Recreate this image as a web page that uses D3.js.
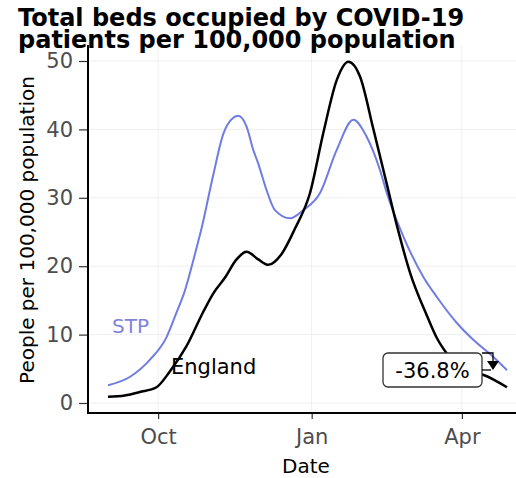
<!DOCTYPE html>
<html>
<head>
<meta charset="utf-8">
<script src="https://cdn.jsdelivr.net/npm/d3@7"></script>
<style>
  html, body { margin: 0; padding: 0; background: #fff; }
  svg { display: block; font-family: "DejaVu Sans", sans-serif; }
</style>
</head>
<body>
<svg id="chart" width="516" height="478"></svg>
<script>
// ---- Data ----
const englandDates = ["2020-09-01","2020-09-11","2020-09-20","2020-09-30","2020-10-08","2020-10-18","2020-10-28","2020-11-03","2020-11-10","2020-11-17","2020-11-23","2020-11-30","2020-12-06","2020-12-14","2020-12-22","2020-12-31","2021-01-08","2021-01-16","2021-01-23","2021-01-30","2021-02-07","2021-02-15","2021-02-21","2021-03-01","2021-03-11","2021-03-17","2021-03-23","2021-03-31","2021-04-14","2021-04-28"];
const englandValues = [0.9,1.1,1.6,2.3,4.6,8.3,13.3,16.0,18.3,21.0,22.1,21.0,20.2,21.8,25.5,30.7,39.5,47.2,49.9,47.7,40.0,32.0,26.0,19.0,12.8,9.5,7.2,4.8,4.1,2.3];

const stpDates = ["2020-09-01","2020-09-14","2020-09-26","2020-10-06","2020-10-12","2020-10-17","2020-10-23","2020-10-27","2020-11-03","2020-11-09","2020-11-15","2020-11-18","2020-11-23","2020-11-27","2020-11-30","2020-12-05","2020-12-10","2020-12-19","2020-12-27","2021-01-06","2021-01-16","2021-01-26","2021-02-03","2021-02-11","2021-02-15","2021-02-25","2021-03-09","2021-03-17","2021-03-29","2021-04-08","2021-04-20","2021-04-28"];
const stpValues = [2.6,3.8,6.3,9.6,13.2,16.4,21.7,25.5,33.3,39.3,41.7,42.0,40.4,37.0,35.0,31.1,28.2,27.0,28.2,30.7,37.0,41.4,38.9,34.0,30.7,24.3,18.4,15.5,11.7,9.2,6.7,4.8];

const yTicks = [0,10,20,30,40,50];
const xTickDates = ["2020-10-01","2021-01-01","2021-04-01"];
const titleLines = ["Total beds occupied by COVID-19","patients per 100,000 population"];
const changeLabel = "-36.8%";

// ---- Setup ----
const parse = d3.timeParse("%Y-%m-%d");
const svg = d3.select("#chart");
const W = 516, H = 478;
svg.append("rect").attr("width", W).attr("height", H).attr("fill", "#fff");

const x = d3.scaleTime()
  .domain([parse("2020-08-20"), parse("2021-05-07")])
  .range([88, 522]);
const y = d3.scaleLinear().domain([0, 50]).range([403, 61]);

const panelTop = 45, panelBottom = 413, panelLeft = 88, panelRight = 516;

// gridlines
const grid = svg.append("g");
grid.selectAll("line.h").data(yTicks).enter().append("line")
  .attr("x1", panelLeft).attr("x2", panelRight)
  .attr("y1", d => y(d)).attr("y2", d => y(d))
  .attr("stroke", "#efefef").attr("stroke-width", 1);
grid.selectAll("line.v").data(xTickDates.map(parse)).enter().append("line")
  .attr("x1", d => x(d)).attr("x2", d => x(d))
  .attr("y1", panelTop).attr("y2", panelBottom)
  .attr("stroke", "#efefef").attr("stroke-width", 1);

// clip
svg.append("clipPath").attr("id", "clip").append("rect")
  .attr("x", panelLeft).attr("y", panelTop - 5).attr("width", panelRight - panelLeft).attr("height", panelBottom - panelTop + 5);

const line = d3.line().x(d => x(d[0])).y(d => y(d[1])).curve(d3.curveMonotoneX);
const eng = englandDates.map((d, i) => [parse(d), englandValues[i]]);
const stp = stpDates.map((d, i) => [parse(d), stpValues[i]]);

const plot = svg.append("g").attr("clip-path", "url(#clip)");
plot.append("path").datum(stp).attr("d", line)
  .attr("fill", "none").attr("stroke", "#6f7de3").attr("stroke-width", 2);
plot.append("path").datum(eng).attr("d", line)
  .attr("fill", "none").attr("stroke", "#000").attr("stroke-width", 2.5);

// series labels
svg.append("text").attr("x", 112).attr("y", 333).text("STP")
  .attr("font-size", 20).attr("fill", "#7f84dd");
svg.append("text").attr("x", 171).attr("y", 374).text("England")
  .attr("font-size", 21).attr("fill", "#000");

// change label box
const box = svg.append("g");
box.append("rect").attr("x", 383).attr("y", 353).attr("width", 99).attr("height", 34)
  .attr("rx", 5).attr("fill", "#fff").attr("stroke", "#333").attr("stroke-width", 1.3);
box.append("text").attr("x", 432.5).attr("y", 378).attr("text-anchor", "middle")
  .attr("font-size", 21).attr("fill", "#000").text(changeLabel);
// arrow
box.append("path").attr("d", "M482,353 H493 V362")
  .attr("fill", "none").attr("stroke", "#000").attr("stroke-width", 1.3);
box.append("path").attr("d", "M487,361 L499,361 L493,370 Z").attr("fill", "#000");
box.append("path").attr("d", "M482,370 H491")
  .attr("fill", "none").attr("stroke", "#000").attr("stroke-width", 1.3);

// axes
const yAxis = svg.append("g").attr("transform", `translate(${panelLeft},0)`)
  .call(d3.axisLeft(y).tickValues(yTicks).tickSize(9).tickPadding(6));
const xAxis = svg.append("g").attr("transform", `translate(0,${panelBottom})`)
  .call(d3.axisBottom(x).tickValues(xTickDates.map(parse)).tickFormat(d3.timeFormat("%b")).tickSize(6).tickPadding(10));
[yAxis, xAxis].forEach(g => {
  g.select(".domain").remove();
  g.selectAll(".tick line").attr("stroke", "#333").attr("stroke-width", 1.2);
  g.selectAll(".tick text").attr("fill", "#4d4d4d").attr("font-size", 21)
    .attr("font-family", "DejaVu Sans, sans-serif");
});
svg.append("line").attr("x1", panelLeft).attr("x2", panelLeft).attr("y1", panelTop).attr("y2", panelBottom + 1)
  .attr("stroke", "#000").attr("stroke-width", 2);
svg.append("line").attr("x1", panelLeft - 1).attr("x2", panelRight).attr("y1", panelBottom).attr("y2", panelBottom)
  .attr("stroke", "#000").attr("stroke-width", 2);

// axis titles
svg.append("text").attr("x", 306).attr("y", 473).attr("text-anchor", "middle")
  .attr("font-size", 20).attr("fill", "#000").text("Date");
svg.append("text").attr("transform", "translate(34,230) rotate(-90)").attr("text-anchor", "middle")
  .attr("font-size", 20).attr("fill", "#000").text("People per 100,000 population");

// title
svg.append("g").selectAll("text").data(titleLines).enter().append("text")
  .attr("x", 18).attr("y", (d, i) => 26 + i * 22)
  .attr("font-size", 24).attr("font-weight", "bold").attr("fill", "#000").text(d => d);
</script>
</body>
</html>
